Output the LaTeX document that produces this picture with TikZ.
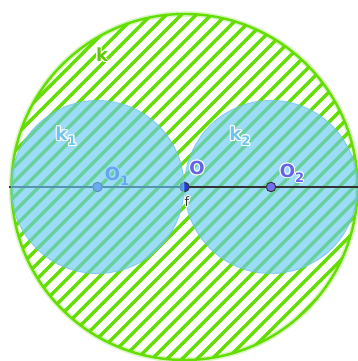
\documentclass[tikz,border=0pt]{standalone}
\usepackage{fontspec}
\setmainfont{DejaVu Sans}
\definecolor{hatchgreen}{RGB}{100,222,0}
\definecolor{discblue}{RGB}{105,202,242}
\definecolor{discedge}{RGB}{110,195,235}
\definecolor{ptblue}{RGB}{112,112,240}
\definecolor{ptdark}{RGB}{40,60,210}
\definecolor{linegray}{RGB}{51,51,51}
\definecolor{lblgreen}{RGB}{95,200,0}
\definecolor{lblblue}{RGB}{110,198,238}
\definecolor{lblpurple}{RGB}{100,100,230}
\newcommand\hcopy[2]{\rlap{\kern#1\raise#2\hbox{\color{white}\copy0}}}
\newcommand\halo[2]{\setbox0\hbox{#2}\leavevmode
  \hcopy{1.1pt}{0pt}\hcopy{-1.1pt}{0pt}\hcopy{0pt}{1.1pt}\hcopy{0pt}{-1.1pt}%
  \hcopy{.8pt}{.8pt}\hcopy{-.8pt}{.8pt}\hcopy{.8pt}{-.8pt}\hcopy{-.8pt}{-.8pt}%
  {\color{#1}\box0}}
\newcommand\sub[1]{\raisebox{-5pt}{\fontsize{13pt}{13pt}\selectfont#1}}
\begin{document}
\begin{tikzpicture}[x=1pt,y=1pt,
  hatch/.style={hatchgreen,line width=3.4pt},
  bigcircle/.style={hatchgreen,line width=2.4pt},
  glow/.style={hatchgreen,line width=5.5pt,opacity=0.25},
  disc/.style={fill=discblue,fill opacity=0.65,draw=discedge,draw opacity=0.7,line width=1pt},
  linef/.style={linegray,line width=2.4pt},
  dot/.style={circle,inner sep=0pt,minimum size=9.5pt,draw=linegray,line width=0.9pt,fill=ptblue},
  lbl/.style={inner sep=0pt,font=\fontsize{18pt}{18pt}\selectfont\bfseries}]
\useasboundingbox (0,0) rectangle (358,361);
\fill[white] (0,0) rectangle (358,361);
\coordinate (O) at (184.5,174);
\coordinate (C1) at (97.5,174);
\coordinate (C2) at (271,174);
\coordinate (L) at (9,174);
\coordinate (R) at (358,174);
% hatched circle k
\begin{scope}
  \clip (O) circle (173);
  \foreach \c in {-390,-375,...,390}
    \draw[hatch] (-10,-10+\c) -- (370,370+\c);
\end{scope}
\draw[glow] (O) circle (173);
\draw[bigcircle] (O) circle (173);
% k2
\draw[disc] (C2) circle (86.5);
% line f
\draw[linef] (L) -- (R);
% points
\node[dot] (O1) at (C1) {};
\node[dot,fill=ptdark] (Opt) at (O) {};
\node[dot] (O2) at (C2) {};
\node[lbl] (lO1) at (117,185) {\halo{lblpurple}{O\sub{1}}};
% k1 on top
\draw[disc] (C1) circle (86.5);
% labels
\node[lbl] (lk) at (102,306) {\halo{lblgreen}{k}};
\node[lbl] (lk1) at (66,225) {\halo{lblblue}{k\sub{1}}};
\node[lbl] (lk2) at (240,225) {\halo{lblblue}{k\sub{2}}};
\node[lbl] (lO) at (197,193) {\halo{lblpurple}{O}};
\node[lbl] (lO2) at (292,188) {\halo{lblpurple}{O\sub{2}}};
\node[inner sep=0pt,font=\fontsize{13pt}{13pt}\selectfont] (lf) at (187,159) {\halo{linegray}{f}};
\end{tikzpicture}
\end{document}
